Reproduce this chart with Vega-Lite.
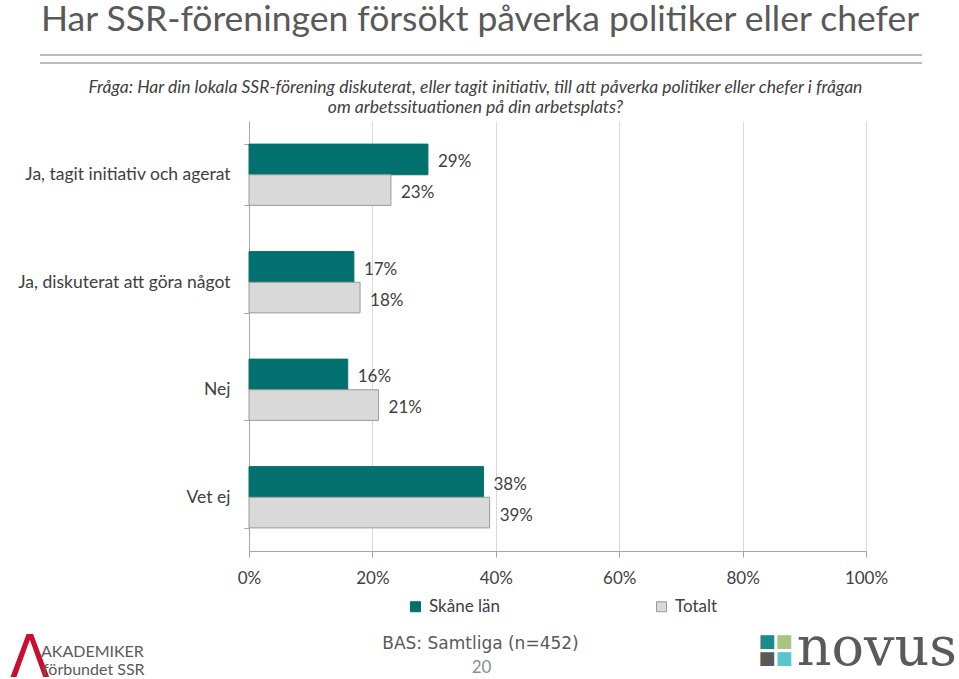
{
  "$schema": "https://vega.github.io/schema/vega-lite/v6.json",
  "padding": {"left": 10, "top": 2, "right": 0, "bottom": 0},
  "autosize": {"type": "pad"},
  "title": {
    "text": "Har SSR-föreningen försökt påverka politiker eller chefer",
    "anchor": "start",
    "dx": 31,
    "fontSize": 35.5,
    "font": "Lato",
    "fontWeight": "normal",
    "color": "#595959",
    "offset": 16
  },
  "spacing": 7,
  "resolve": {"legend": {"color": "independent", "stroke": "independent"}},
  "config": {"view": {"stroke": null}, "font": "Lato"},
  "vconcat": [
    {
      "width": 617,
      "height": 16,
      "data": {"values": [{"line": "a"}, {"line": "b"}]},
      "mark": {"type": "rule", "color": "#a6a6a6", "strokeWidth": 1.6},
      "encoding": {
        "x": {"datum": "L", "type": "nominal", "scale": {"type": "point", "domain": ["L", "R"], "range": [-209, 673], "padding": 0}, "axis": null},
        "x2": {"datum": "R"},
        "y": {
          "field": "line",
          "type": "nominal",
          "scale": {"type": "point", "domain": ["a", "b", "c"], "padding": 0},
          "axis": null
        }
      }
    },
    {
      "width": 617,
      "height": 430,
      "title": {
        "text": [
          "Fråga: Har din lokala SSR-förening diskuterat, eller tagit initiativ, till att påverka politiker eller chefer i frågan",
          "om arbetssituationen på din arbetsplats?"
        ],
        "anchor": "middle",
        "frame": "group",
        "dx": -82,
        "fontSize": 17.5,
        "font": "Lato",
        "fontStyle": "italic",
        "fontWeight": "normal",
        "color": "#404040",
        "lineHeight": 20,
        "offset": -4
      },
      "data": {
        "values": [
          {"cat": "Ja, tagit initiativ och agerat", "series": "Skåne län", "value": 0.29},
          {"cat": "Ja, tagit initiativ och agerat", "series": "Totalt", "value": 0.23},
          {"cat": "Ja, diskuterat att göra något", "series": "Skåne län", "value": 0.17},
          {"cat": "Ja, diskuterat att göra något", "series": "Totalt", "value": 0.18},
          {"cat": "Nej", "series": "Skåne län", "value": 0.16},
          {"cat": "Nej", "series": "Totalt", "value": 0.21},
          {"cat": "Vet ej", "series": "Skåne län", "value": 0.38},
          {"cat": "Vet ej", "series": "Totalt", "value": 0.39}
        ]
      },
      "encoding": {
        "y": {
          "field": "cat",
          "type": "nominal",
          "sort": null,
          "scale": {"paddingInner": 0.43, "paddingOuter": 0.215},
          "axis": {
            "title": null,
            "domainColor": "#a6a6a6",
            "tickColor": "#a6a6a6",
            "tickSize": 5,
            "tickBand": "extent",
            "labelFontSize": 17.5,
            "labelFont": "Lato",
            "labelColor": "#404040",
            "labelPadding": 14,
            "labelLimit": 300
          }
        },
        "yOffset": {"field": "series", "type": "nominal", "sort": ["Skåne län", "Totalt"]}
      },
      "layer": [
        {
          "mark": {"type": "bar", "strokeWidth": 1},
          "encoding": {
            "x": {
              "field": "value",
              "type": "quantitative",
              "scale": {"domain": [0, 1]},
              "axis": {
                "title": null,
                "format": ".0%",
                "values": [0, 0.2, 0.4, 0.6, 0.8, 1],
                "grid": true,
                "gridColor": "#d9d9d9",
                "domainColor": "#a6a6a6",
                "tickColor": "#a6a6a6",
                "tickSize": 6,
                "labelFontSize": 17,
                "labelFont": "Lato",
                "labelColor": "#404040",
                "labelPadding": 13,
                "labelFlush": false
              }
            },
            "color": {
              "field": "series",
              "type": "nominal",
              "scale": {"domain": ["Skåne län", "Totalt"], "range": ["#02706f", "#d9d9d9"]},
              "legend": {
                "orient": "none",
                "legendX": 158,
                "legendY": 477,
                "padding": 0,
                "direction": "horizontal",
                "title": null,
                "symbolType": "square",
                "symbolSize": 100,
                "symbolStrokeWidth": 1,
                "labelFontSize": 17,
                "labelFont": "Lato",
                "labelColor": "#404040",
                "labelOffset": 5,
                "columnPadding": 153
              }
            },
            "stroke": {
              "field": "series",
              "type": "nominal",
              "scale": {"domain": ["Skåne län", "Totalt"], "range": ["#02706f", "#9a9a9a"]}
            }
          }
        },
        {
          "mark": {"type": "text", "align": "left", "baseline": "middle", "dx": 10, "dy": 3, "fontSize": 17, "font": "Lato", "color": "#404040"},
          "encoding": {
            "x": {"field": "value", "type": "quantitative"},
            "text": {"field": "value", "type": "quantitative", "format": ".0%"}
          }
        }
      ]
    },
    {
      "width": 617,
      "height": 48,
      "data": {
        "values": [
          {"item": "swoosh", "t": "Λ"},
          {"item": "ak1", "t": "AKADEMIKER"},
          {"item": "ak2", "t": "förbundet SSR"},
          {"item": "bas", "t": "BAS: Samtliga (n=452)"},
          {"item": "page", "t": "20"},
          {"item": "novus", "t": "novus"},
          {"item": "sq1", "t": "■"},
          {"item": "sq2", "t": "■"},
          {"item": "sq3", "t": "■"},
          {"item": "sq4", "t": "■"}
        ]
      },
      "encoding": {
        "text": {"field": "t", "type": "nominal"}
      },
      "layer": [
        {
          "transform": [{"filter": "datum.item === 'swoosh'"}],
          "mark": {"type": "text", "align": "left", "baseline": "alphabetic", "font": "DejaVu Sans", "fontSize": 58, "color": "#c8102e", "dy": 1},
          "encoding": {
            "x": {"datum": "L", "type": "nominal", "scale": {"type": "point", "domain": ["L", "C", "R"], "range": [-239, 706], "padding": 0}, "axis": null},
            "y": {"datum": "b", "type": "nominal", "scale": {"type": "point", "domain": ["t0", "t", "b"], "padding": 0}, "axis": null}
          }
        },
        {
          "transform": [{"filter": "datum.item === 'ak1'"}],
          "mark": {"type": "text", "align": "left", "baseline": "alphabetic", "font": "Lato", "fontSize": 16, "color": "#595959", "dx": 31, "dy": 5},
          "encoding": {
            "x": {"datum": "L", "type": "nominal"},
            "y": {"datum": "t", "type": "nominal"}
          }
        },
        {
          "transform": [{"filter": "datum.item === 'ak2'"}],
          "mark": {"type": "text", "align": "left", "baseline": "alphabetic", "font": "Lato", "fontSize": 16, "color": "#595959", "dx": 33, "dy": -1},
          "encoding": {
            "x": {"datum": "L", "type": "nominal"},
            "y": {"datum": "b", "type": "nominal"}
          }
        },
        {
          "transform": [{"filter": "datum.item === 'bas'"}],
          "mark": {"type": "text", "align": "center", "baseline": "alphabetic", "font": "DejaVu Sans", "fontSize": 17, "color": "#595959", "dx": -2, "dy": -3},
          "encoding": {
            "x": {"datum": "C", "type": "nominal"},
            "y": {"datum": "t", "type": "nominal"}
          }
        },
        {
          "transform": [{"filter": "datum.item === 'page'"}],
          "mark": {"type": "text", "align": "center", "baseline": "alphabetic", "font": "Lato", "fontSize": 17, "color": "#8c8c8c", "dx": -1, "dy": -3},
          "encoding": {
            "x": {"datum": "C", "type": "nominal"},
            "y": {"datum": "b", "type": "nominal"}
          }
        },
        {
          "transform": [{"filter": "datum.item === 'novus'"}],
          "mark": {"type": "text", "align": "right", "baseline": "alphabetic", "font": "DejaVu Serif", "fontSize": 54, "color": "#5a5a5a", "dx": 2, "dy": -11},
          "encoding": {
            "x": {"datum": "R", "type": "nominal"},
            "y": {"datum": "b", "type": "nominal"}
          }
        },
        {
          "transform": [{"filter": "datum.item === 'sq1'"}],
          "mark": {"type": "text", "align": "center", "baseline": "middle", "font": "DejaVu Sans", "fontSize": 18, "color": "#1a8a8c", "dx": -188, "dy": -10},
          "encoding": {
            "x": {"datum": "R", "type": "nominal"},
            "y": {"datum": "t", "type": "nominal"}
          }
        },
        {
          "transform": [{"filter": "datum.item === 'sq2'"}],
          "mark": {"type": "text", "align": "center", "baseline": "middle", "font": "DejaVu Sans", "fontSize": 18, "color": "#a9c47f", "dx": -171, "dy": -10},
          "encoding": {
            "x": {"datum": "R", "type": "nominal"},
            "y": {"datum": "t", "type": "nominal"}
          }
        },
        {
          "transform": [{"filter": "datum.item === 'sq3'"}],
          "mark": {"type": "text", "align": "center", "baseline": "middle", "font": "DejaVu Sans", "fontSize": 18, "color": "#595959", "dx": -188, "dy": 7},
          "encoding": {
            "x": {"datum": "R", "type": "nominal"},
            "y": {"datum": "t", "type": "nominal"}
          }
        },
        {
          "transform": [{"filter": "datum.item === 'sq4'"}],
          "mark": {"type": "text", "align": "center", "baseline": "middle", "font": "DejaVu Sans", "fontSize": 18, "color": "#5bc4d0", "dx": -171, "dy": 7},
          "encoding": {
            "x": {"datum": "R", "type": "nominal"},
            "y": {"datum": "t", "type": "nominal"}
          }
        }
      ]
    }
  ]
}
